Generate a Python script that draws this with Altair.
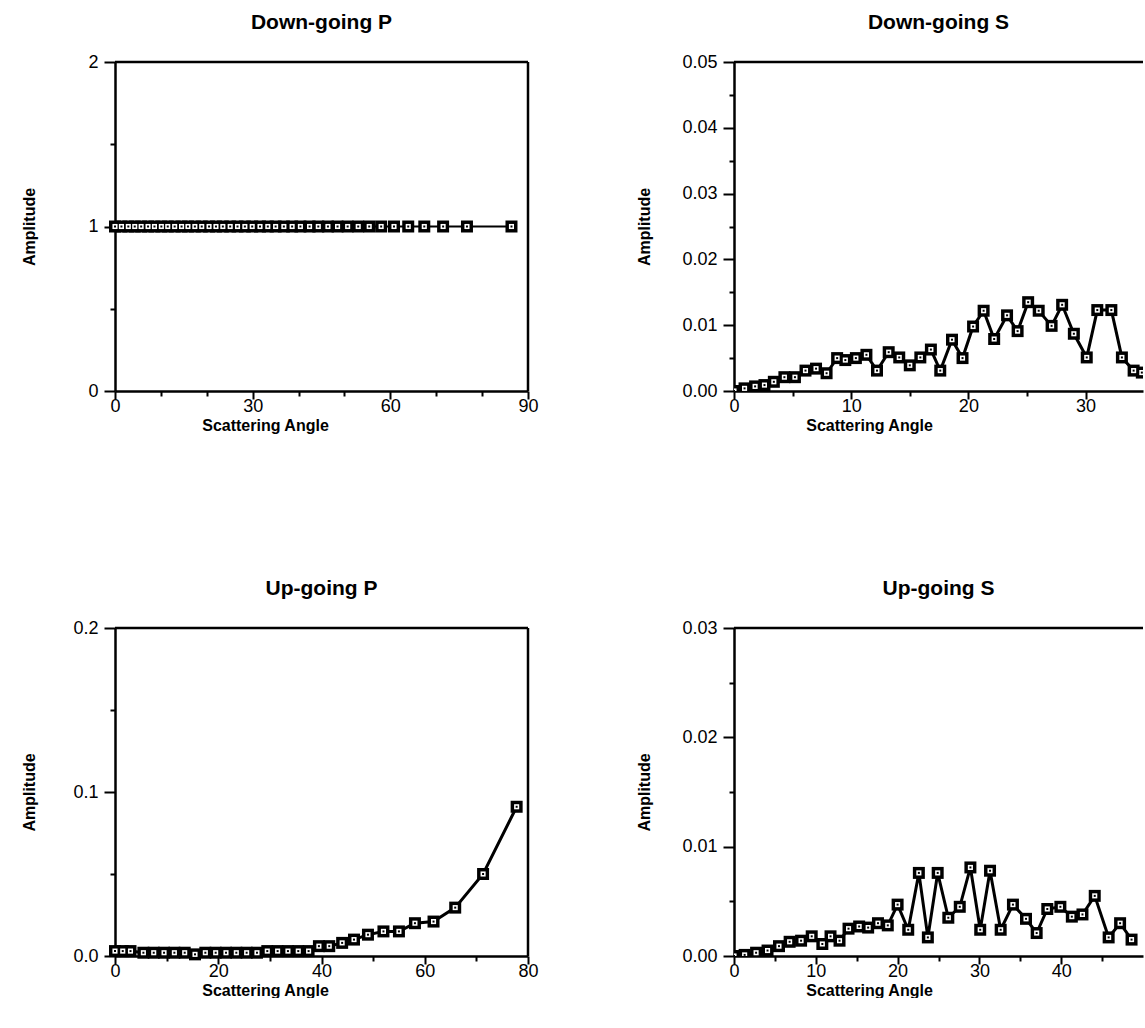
import json
import altair as alt
import pandas as pd

# ---------------- data ----------------
# Down-going P
dp_angle = [0, 1.4, 2.9, 4.3, 5.7, 7.2, 8.6, 10.1, 11.5, 13.0, 14.5, 15.9, 17.4, 18.9,
            20.5, 22.0, 23.5, 25.1, 26.7, 28.3, 29.9, 31.6, 33.3, 35.0, 36.8, 38.6, 40.4,
            42.4, 44.3, 46.4, 48.5, 50.7, 53.0, 55.4, 58.0, 60.8, 63.9, 67.4, 71.5, 76.7, 86.4]
dp_amp = [1.0, 1.0, 1.0, 1.0, 1.0, 1.0, 1.0, 1.0, 1.0, 1.0, 1.0, 1.0, 1.0, 1.0,
          1.0, 1.0, 1.0, 1.0, 1.0, 1.0, 1.0, 1.0, 1.0, 1.0, 1.0, 1.0, 1.0,
          1.0, 1.0, 1.0, 1.0, 1.0, 1.0, 1.0, 1.0, 1.0, 1.0, 1.0, 1.0, 1.0, 1.0]

# Down-going S
ds_angle = [0, 0.9, 1.8, 2.6, 3.4, 4.3, 5.2, 6.1, 7.0, 7.9, 8.8, 9.5, 10.4, 11.3, 12.2,
            13.2, 14.1, 15.0, 15.9, 16.8, 17.6, 18.6, 19.5, 20.4, 21.3, 22.2, 23.3, 24.2,
            25.1, 26.0, 27.1, 28.0, 29.0, 30.1, 31.0, 32.2, 33.1, 34.1, 34.8]
ds_amp = [0.0, 0.0004, 0.0007, 0.0009, 0.0014, 0.0021, 0.0021, 0.0031, 0.0034, 0.0027,
          0.0050, 0.0047, 0.0050, 0.0055, 0.0031, 0.0059, 0.0051, 0.0039, 0.0051, 0.0063,
          0.0031, 0.0078, 0.0050, 0.0098, 0.0122, 0.0079, 0.0115, 0.0091, 0.0135, 0.0122,
          0.0099, 0.0131, 0.0087, 0.0051, 0.0123, 0.0123, 0.0051, 0.0031, 0.0028]

# Up-going P
up_angle = [0, 1.5, 3.0, 5.5, 7.5, 9.5, 11.5, 13.5, 15.5, 17.5, 19.5, 21.5, 23.5, 25.5,
            27.5, 29.5, 31.5, 33.5, 35.5, 37.5, 39.5, 41.5, 44.0, 46.3, 49.0, 52.0, 55.0,
            58.1, 61.7, 65.9, 71.3, 77.8]
up_amp = [0.003, 0.003, 0.003, 0.002, 0.002, 0.002, 0.002, 0.002, 0.001, 0.002, 0.002,
          0.002, 0.002, 0.002, 0.002, 0.003, 0.003, 0.003, 0.003, 0.003, 0.006, 0.006,
          0.008, 0.010, 0.013, 0.015, 0.015, 0.020, 0.021, 0.0295, 0.050, 0.091]

# Up-going S
us_angle = [0, 1.3, 2.7, 4.1, 5.5, 6.8, 8.2, 9.5, 10.8, 11.8, 12.9, 14.0, 15.3, 16.4,
            17.6, 18.8, 20.0, 21.3, 22.6, 23.7, 24.9, 26.2, 27.6, 28.9, 30.1, 31.3, 32.6,
            34.1, 35.7, 37.0, 38.3, 39.9, 41.3, 42.6, 44.1, 45.8, 47.2, 48.6]
us_amp = [0.0, 0.0001, 0.0003, 0.0005, 0.0009, 0.0013, 0.0014, 0.0018, 0.0011, 0.0018,
          0.0014, 0.0025, 0.0027, 0.0026, 0.0030, 0.0028, 0.0047, 0.0024, 0.0076, 0.0017,
          0.0076, 0.0035, 0.0045, 0.0081, 0.0024, 0.0078, 0.0024, 0.0047, 0.0034, 0.0021,
          0.0043, 0.0045, 0.0036, 0.0038, 0.0055, 0.0017, 0.0030, 0.0015]

# ---------------- axis ticks ----------------
dp_xticks = [0, 10, 20, 30, 40, 50, 60, 70, 80, 90]
dp_xlabels = [0, 30, 60, 90]
dp_yticks = [0, 0.5, 1, 1.5, 2]
dp_ylabels = [0, 1, 2]

ds_xticks = [0, 5, 10, 15, 20, 25, 30]
ds_xlabels = [0, 10, 20, 30]
ds_yticks = [0, 0.005, 0.01, 0.015, 0.02, 0.025, 0.03, 0.035, 0.04, 0.045, 0.05]
ds_ylabels = [0, 0.01, 0.02, 0.03, 0.04, 0.05]

up_xticks = [0, 10, 20, 30, 40, 50, 60, 70, 80]
up_xlabels = [0, 20, 40, 60, 80]
up_yticks = [0, 0.05, 0.1, 0.15, 0.2]
up_ylabels = [0, 0.1, 0.2]

us_xticks = [0, 5, 10, 15, 20, 25, 30, 35, 40, 45]
us_xlabels = [0, 10, 20, 30, 40]
us_yticks = [0, 0.005, 0.01, 0.015, 0.02, 0.025, 0.03]
us_ylabels = [0, 0.01, 0.02, 0.03]

FONT = "Liberation Sans"
LW = 2.5


def make_axis(vals, labs, title, fmt, title_x, title_y, major, minor, lab_pad):
    test = "indexof(%s, datum.value) >= 0" % json.dumps(labs)
    return alt.Axis(
        values=vals,
        title=title,
        labelExpr="%s ? format(datum.value, '%s') : ''" % (test, fmt),
        tickSize={"condition": {"test": test, "value": major}, "value": minor},
        grid=False,
        labelOverlap=False,
        labelFlush=False,
        labelBound=False,
        labelPadding=lab_pad,
        titleBaseline="middle",
        titleAlign="center",
        titleX=title_x,
        titleY=title_y,
    )


def panel(angle, amp, title, xdom, xticks, xlabels, ydom, yticks, ylabels, yfmt,
          w, h, right_border, ytitle_x, xtitle_x, line_w=3.0):
    df = pd.DataFrame({"angle": angle, "amp": amp})
    clip = not right_border
    xs = alt.Scale(domain=xdom, nice=False, zero=False)
    ys = alt.Scale(domain=ydom, nice=False, zero=False)
    xenc = alt.X("angle:Q", scale=xs,
                 axis=make_axis(xticks, xlabels, "Scattering Angle", "d",
                                xtitle_x, 34, 8, 5, -2))
    yenc = alt.Y("amp:Q", scale=ys,
                 axis=make_axis(yticks, ylabels, "Amplitude", yfmt,
                                ytitle_x, h / 2, 11, 5, 6))
    base = alt.Chart(df).encode(x=xenc, y=yenc)
    line = base.mark_line(color="black", strokeWidth=line_w, clip=clip)
    outer = base.mark_point(shape="square", filled=True, color="black", size=144,
                            opacity=1, clip=clip)
    inner = base.mark_point(shape="square", filled=True, color="white", size=26,
                            opacity=1, clip=clip)
    dot = base.mark_point(shape="square", filled=True, color="black", size=4,
                          opacity=1, clip=clip)
    top = alt.Chart(pd.DataFrame({"amp": [ydom[1]]})).mark_rule(
        color="black", strokeWidth=LW).encode(y=yenc)
    layers = [line, outer, inner, dot, top]
    if right_border:
        rb = alt.Chart(pd.DataFrame({"angle": [xdom[1]]})).mark_rule(
            color="black", strokeWidth=LW).encode(x=xenc)
        layers.append(rb)
    return alt.layer(*layers).properties(
        width=w, height=h,
        title=alt.TitleParams(text=title, fontSize=21, font=FONT, fontWeight="bold",
                              color="black", offset=20, frame="group", anchor="middle"),
    )


p1 = panel(dp_angle, dp_amp, "Down-going P", [0, 90], dp_xticks, dp_xlabels,
           [0, 2], dp_yticks, dp_ylabels, ".0f", 413, 329, True, -86, 150, 2.0)
p2 = panel(ds_angle, ds_amp, "Down-going S", [0, 34.9], ds_xticks, ds_xlabels,
           [0, 0.05], ds_yticks, ds_ylabels, ".2f", 409, 329, False, -90, 135)
p3 = panel(up_angle, up_amp, "Up-going P", [0, 80], up_xticks, up_xlabels,
           [0, 0.2], up_yticks, up_ylabels, ".1f", 413, 328, True, -86, 150)
p4 = panel(us_angle, us_amp, "Up-going S", [0, 50], us_xticks, us_xlabels,
           [0, 0.03], us_yticks, us_ylabels, ".2f", 409, 328, False, -90, 135)

chart = alt.vconcat(
    alt.hconcat(p1, p2, spacing=97),
    alt.hconcat(p3, p4, spacing=97),
    spacing=145,
).properties(
    padding={"left": 21, "top": 12, "right": 0, "bottom": 0},
    background="white",
).configure_view(stroke=None).configure_axis(
    domainColor="black", domainWidth=LW, tickColor="black", tickWidth=2,
    labelFont=FONT, labelFontSize=18, labelColor="black",
    titleFont=FONT, titleFontSize=16, titleFontWeight="bold", titleColor="black",
)

chart.save("out.html", embed_options={"renderer": "svg", "actions": False})
